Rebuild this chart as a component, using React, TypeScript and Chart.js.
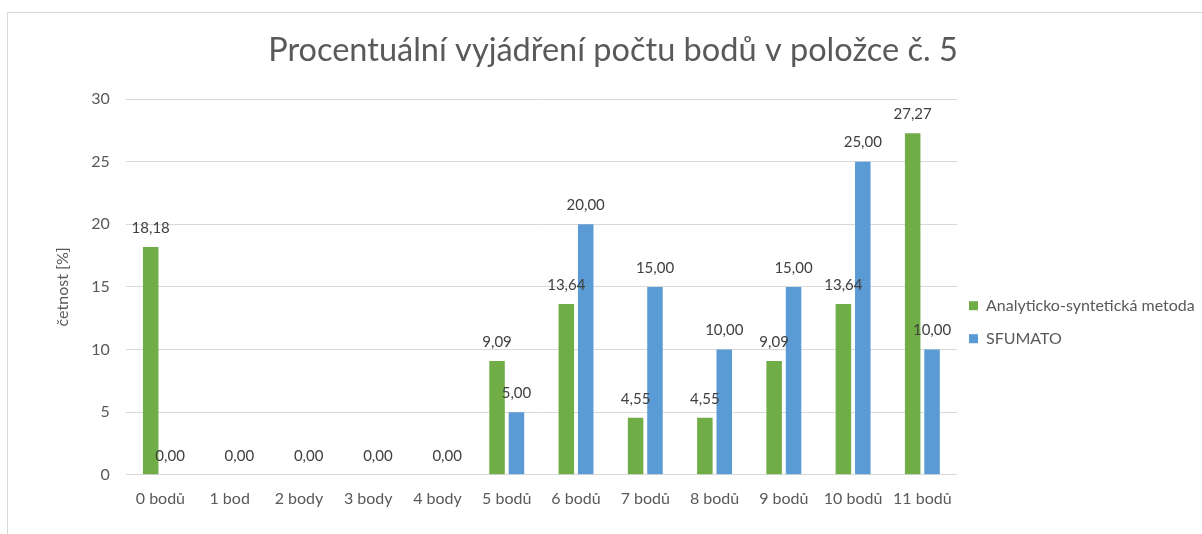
import React, { useEffect, useRef } from 'react';
import { Chart, registerables } from 'chart.js';

Chart.register(...registerables);

const chartTitle = 'Procentuální vyjádření počtu bodů v položce č. 5';
const yAxisTitle = 'četnost [%]';
const categories = ['0 bodů', '1 bod', '2 body', '3 body', '4 body', '5 bodů', '6 bodů', '7 bodů', '8 bodů', '9 bodů', '10 bodů', '11 bodů'];
const seriesNames = ['Analyticko-syntetická metoda', 'SFUMATO'];
const analytickoValues: (number | null)[] = [18.18, null, null, null, null, 9.09, 13.64, 4.55, 4.55, 9.09, 13.64, 27.27];
const sfumatoValues: (number | null)[] = [0, 0, 0, 0, 0, 5, 20, 15, 10, 15, 25, 10];
const yMin = 0;
const yMax = 30;
const yStep = 5;

const FONT = 'Lato, "Open Sans", sans-serif';
const GREEN = '#70ad47';
const BLUE = '#5b9bd5';
const TEXT = '#595959';

const dataLabelPlugin = {
  id: 'dataLabels',
  afterDatasetsDraw(chart: any) {
    const ctx = chart.ctx;
    ctx.save();
    ctx.font = `15px ${FONT}`;
    ctx.fillStyle = '#404040';
    ctx.textAlign = 'center';
    ctx.textBaseline = 'middle';
    chart.data.datasets.forEach((ds: any, i: number) => {
      const meta = chart.getDatasetMeta(i);
      meta.data.forEach((el: any, j: number) => {
        const v = ds.data[j];
        if (v === null || v === undefined) return;
        const txt = v.toFixed(2).replace('.', ',');
        ctx.fillText(txt, el.x, el.y - 19);
      });
    });
    ctx.restore();
  },
};

const blockShiftPlugin = {
  id: 'blockShift',
  afterLayout(chart: any) {
    const lg = chart.legend;
    if (lg) {
      lg.left -= 5;
    }
    const tb = chart.titleBlock;
    if (tb) {
      tb.left -= 8;
      tb.right -= 8;
    }
  },
};

export default function App() {
  const ref = useRef<HTMLCanvasElement>(null);
  useEffect(() => {
    if (!ref.current) return;
    const chart = new Chart(ref.current, {
      type: 'bar',
      data: {
        labels: categories,
        datasets: [
          { label: seriesNames[0], data: analytickoValues, backgroundColor: GREEN, categoryPercentage: 0.56, barPercentage: 0.8 },
          { label: seriesNames[1], data: sfumatoValues, backgroundColor: BLUE, categoryPercentage: 0.56, barPercentage: 0.8 },
        ],
      },
      options: {
        responsive: false,
        animation: false,
        layout: { padding: { left: 40, right: 0, top: 0, bottom: 20 } },
        plugins: {
          title: {
            display: true,
            text: chartTitle,
            color: TEXT,
            font: { family: FONT, size: 32.5, weight: 'normal' },
            padding: { top: 31, bottom: 29 },
          },
          legend: {
            display: true,
            position: 'right',
            maxWidth: 245,
            title: { display: true, text: '', font: { size: 12 }, padding: 58 },
            labels: {
              color: TEXT,
              font: { family: FONT, size: 16 },
              boxWidth: 9,
              boxHeight: 9,
              padding: 17,
            },
          },
          tooltip: { enabled: false },
        },
        scales: {
          x: {
            grid: { display: false },
            border: { display: false },
            ticks: { color: TEXT, font: { family: FONT, size: 16 }, padding: 6 },
          },
          y: {
            min: yMin,
            max: yMax,
            grid: { color: '#d9d9d9', drawTicks: false },
            border: { display: false },
            ticks: { stepSize: yStep, color: TEXT, font: { family: FONT, size: 16 }, padding: 16 },
            title: {
              display: true,
              text: yAxisTitle,
              color: TEXT,
              font: { family: FONT, size: 16 },
              padding: { top: 13, bottom: 3 },
            },
          },
        },
      },
      plugins: [dataLabelPlugin, blockShiftPlugin],
    });
    return () => chart.destroy();
  }, []);
  return (
    <>
      <div style={{ position: 'fixed', left: 7, top: 12, width: 1400, height: 700, border: '1px solid #d9d9d9', boxSizing: 'border-box' }} />
      <canvas ref={ref} width={1202} height={534} style={{ position: 'fixed', left: 0, top: 0, width: 1202, height: 534 }} />
    </>
  );
}
